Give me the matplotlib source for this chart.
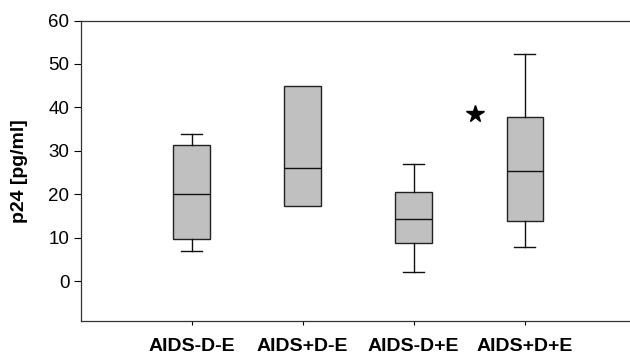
import matplotlib
matplotlib.use("Agg")
import matplotlib.pyplot as plt

plt.rcParams['font.family'] = ['Liberation Sans', 'DejaVu Sans']

groups = ["AIDS-D-E", "AIDS+D-E", "AIDS-D+E", "AIDS+D+E"]
whisker_low = [7.0, 17.25, 2.1, 8.0]
q1 = [9.7, 17.25, 8.9, 13.8]
median = [20.0, 26.0, 14.3, 25.5]
q3 = [31.3, 44.9, 20.5, 37.9]
whisker_high = [34.0, 44.9, 27.1, 52.3]
has_whiskers = [True, False, True, True]

# outlier marked with a star
star_x = 3.55
star_y = 38.6

stats = []
for i, g in enumerate(groups):
    stats.append({
        "label": g,
        "whislo": whisker_low[i],
        "q1": q1[i],
        "med": median[i],
        "q3": q3[i],
        "whishi": whisker_high[i],
        "fliers": [],
    })

fig = plt.figure(figsize=(6.3, 3.56), dpi=100)
ax = fig.add_axes([80.5 / 630, 1 - 321 / 356, (630 - 80.5) / 630, (321 - 20.5) / 356])

parts = ax.bxp(stats, positions=[1, 2, 3, 4], widths=0.325, patch_artist=True,
               showfliers=False, capwidths=0.19,
               boxprops=dict(facecolor="#c0c0c0", edgecolor="#222222", linewidth=1.0),
               medianprops=dict(color="#111111", linewidth=1.0),
               whiskerprops=dict(color="#111111", linewidth=1.0),
               capprops=dict(color="#111111", linewidth=1.0))

for i, ok in enumerate(has_whiskers):
    if not ok:
        for art in parts["caps"][2 * i:2 * i + 2] + parts["whiskers"][2 * i:2 * i + 2]:
            art.set_visible(False)

ax.plot([star_x], [star_y], marker="*", color="black", markersize=13, linestyle="none")

ax.set_xlim(0, 4.95)
ax.set_ylim(-9.1, 60)
ax.set_yticks([0, 10, 20, 30, 40, 50, 60])
ax.set_xticks([1, 2, 3, 4])
ax.set_xticklabels(groups, fontsize=14, fontweight="bold")
ax.tick_params(axis="y", labelsize=13.5, length=5, width=0.8, direction="out", pad=3)
ax.tick_params(axis="x", length=3, width=0.8, direction="out", pad=9)

ax.spines["right"].set_visible(False)
for s in ["left", "top", "bottom"]:
    ax.spines[s].set_linewidth(0.9)
    ax.spines[s].set_color("#333333")

ax.set_ylabel("p24 [pg/ml]", fontsize=14, fontweight="bold", labelpad=15)

fig.savefig("out.png", dpi=100)
